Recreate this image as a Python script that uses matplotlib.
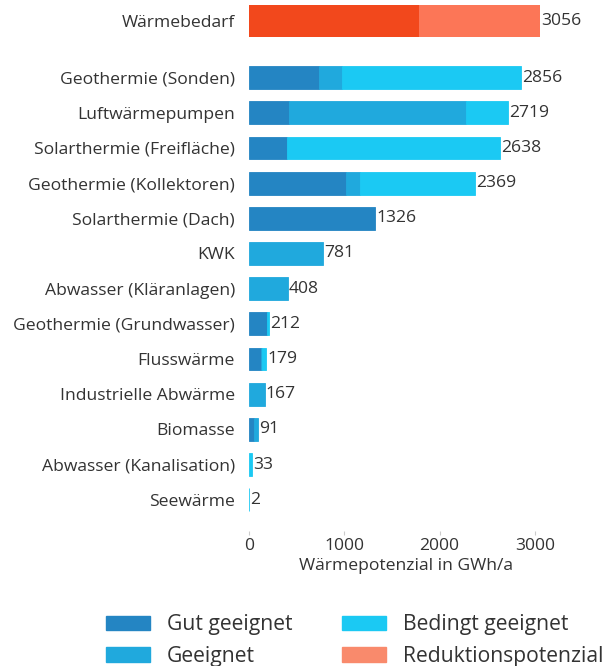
import matplotlib
matplotlib.use("Agg")
import matplotlib.pyplot as plt
from matplotlib.patches import Patch

plt.rcParams['font.family'] = ['Open Sans', 'DejaVu Sans']

categories = ["Geothermie (Sonden)", "Luftwärmepumpen", "Solarthermie (Freifläche)",
              "Geothermie (Kollektoren)", "Solarthermie (Dach)", "KWK",
              "Abwasser (Kläranlagen)", "Geothermie (Grundwasser)", "Flusswärme",
              "Industrielle Abwärme", "Biomasse", "Abwasser (Kanalisation)", "Seewärme"]
gut = [731, 417, 396, 1015, 1326, 0, 0, 186, 123, 0, 57, 0, 0]
geeignet = [242, 1860, 0, 150, 0, 781, 408, 0, 17, 167, 34, 0, 0]
bedingt = [1883, 442, 2242, 1204, 0, 0, 0, 26, 39, 0, 0, 33, 2]

demand_label = "Wärmebedarf"
demand_rest = 1780
reduktion = 1276

series_names = ["Gut geeignet", "Geeignet", "Bedingt geeignet", "Reduktionspotenzial"]
c_gut, c_gee, c_bed, c_red, c_dem = "#2485c3", "#20a9dd", "#1bc9f3", "#fc7657", "#f2481c"

fig = plt.figure(figsize=(6.15, 6.66), dpi=100)
ax = fig.add_axes([249/615, 1-531/666, 314.5/615, (531-3.4)/666])

fs = 12.6
ypos = [1.61 + i for i in range(len(categories))]
h = 0.65
lefts = [0]*len(categories)
for vals, col in [(gut, c_gut), (geeignet, c_gee), (bedingt, c_bed)]:
    for y, l, v in zip(ypos, lefts, vals):
        if v > 0:
            ax.barh([y], [v], left=[l], height=h, color=col, edgecolor=col, linewidth=0.6)
    lefts = [l + v for l, v in zip(lefts, vals)]
for y, tot in zip(ypos, lefts):
    ax.text(tot + 10, y, f"{tot}", va="center", ha="left", fontsize=fs, color="#333333")

ax.barh([0], [demand_rest], height=0.93, color=c_dem, linewidth=0)
ax.barh([0], [reduktion], left=[demand_rest], height=0.93, color=c_red, linewidth=0)
ax.text(demand_rest + reduktion + 10, 0, f"{demand_rest + reduktion}", va="center",
        ha="left", fontsize=fs, color="#333333")

ax.set_yticks([0] + ypos)
ax.set_yticklabels([demand_label] + categories, fontsize=fs, color="#333333")
ax.tick_params(axis="y", length=0, pad=10)
ax.set_ylim(14.5, -0.5)
ax.set_xlim(0, 3300)
ax.set_xticks([0, 1000, 2000, 3000])
ax.tick_params(axis="x", length=3, color="#cccccc", labelsize=fs, labelcolor="#333333", pad=2)
ax.set_xlabel("Wärmepotenzial in GWh/a", fontsize=fs, color="#333333", labelpad=3)
for s in ax.spines.values():
    s.set_visible(False)

handles = [Patch(color=c_gut), Patch(color=c_gee), Patch(color=c_bed), Patch(color="#f98a6c")]
fig.legend(handles, series_names, loc="lower left", bbox_to_anchor=(0.1415, -0.03), ncol=2,
           frameon=False, fontsize=15.2, handlelength=2.08, handleheight=0.71,
           columnspacing=2.37, labelspacing=0.5, handletextpad=0.8,
           labelcolor="#333333")

fig.savefig("out.png", dpi=100)
